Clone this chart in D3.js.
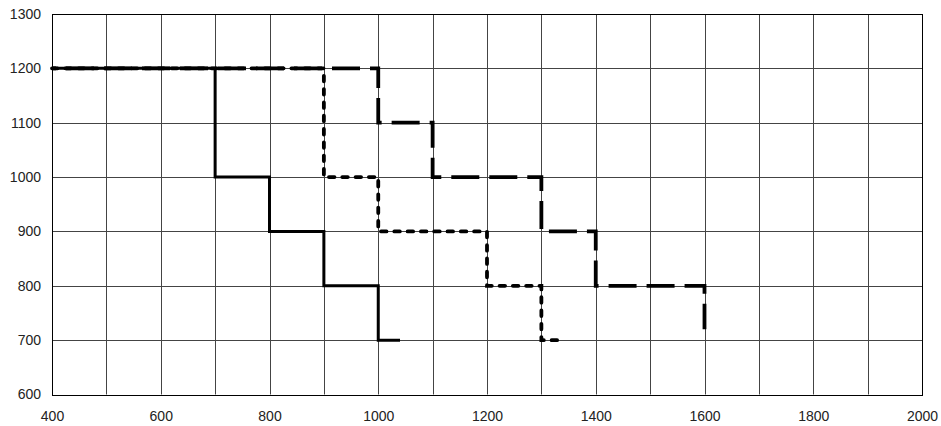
<!DOCTYPE html>
<html>
<head>
<meta charset="utf-8">
<script src="https://cdn.jsdelivr.net/npm/d3@7"></script>
<style>
  html, body { margin: 0; padding: 0; background: #fff; }
</style>
</head>
<body>
<svg id="chart" width="941" height="426"></svg>
<script>
// Step profiles: [x, y] vertices of each stepped line
const solidSteps = [[400,1200],[700,1200],[700,1000],[800,1000],[800,900],[900,900],[900,800],[1000,800],[1000,700],[1040,700]];
const shortDashSteps = [[400,1200],[900,1200],[900,1000],[1000,1000],[1000,900],[1200,900],[1200,800],[1300,800],[1300,700],[1340,700]];
const longDashSteps = [[400,1200],[1000,1200],[1000,1100],[1100,1100],[1100,1000],[1300,1000],[1300,900],[1400,900],[1400,800],[1600,800],[1600,720]];

const xTicks = [400, 600, 800, 1000, 1200, 1400, 1600, 1800, 2000];
const yTicks = [600, 700, 800, 900, 1000, 1100, 1200, 1300];
const xGrid = d3.range(400, 2001, 100);
const yGrid = d3.range(600, 1301, 100);

const svg = d3.select("#chart");
const plotL = 52, plotR = 922, plotT = 14, plotB = 394.5;
const font = "'Liberation Sans', Arial, sans-serif";

const x = d3.scaleLinear().domain([400, 2000]).range([plotL, plotR]);
const y = d3.scaleLinear().domain([600, 1300]).range([plotB, plotT]);

// grid
const grid = svg.append("g");
grid.selectAll("line.v").data(xGrid).join("line")
  .attr("x1", d => Math.round(x(d)) + 0.5).attr("x2", d => Math.round(x(d)) + 0.5)
  .attr("y1", plotT).attr("y2", plotB)
  .attr("stroke", "#444").attr("stroke-width", 1);
grid.selectAll("line.h").data(yGrid).join("line")
  .attr("y1", d => Math.round(y(d)) + 0.5).attr("y2", d => Math.round(y(d)) + 0.5)
  .attr("x1", plotL).attr("x2", plotR)
  .attr("stroke", "#444").attr("stroke-width", 1);

// frame
svg.append("rect")
  .attr("x", plotL + 0.5).attr("y", plotT + 0.5)
  .attr("width", plotR - plotL).attr("height", Math.round(plotB) - plotT)
  .attr("fill", "none").attr("stroke", "#000").attr("stroke-width", 1);

// axes (labels only)
const xAxis = d3.axisBottom(x).tickValues(xTicks).tickSize(0).tickPadding(17).tickFormat(d3.format("d"));
const yAxis = d3.axisLeft(y).tickValues(yTicks).tickSize(0).tickPadding(11).tickFormat(d3.format("d"));
const gx = svg.append("g").attr("transform", `translate(0,${plotB})`).call(xAxis);
gx.select(".domain").remove();
gx.selectAll("text").style("font-size", "14px").style("font-family", font).attr("fill", "#222");
const gy = svg.append("g").attr("transform", `translate(${plotL},0)`).call(yAxis);
gy.select(".domain").remove();
gy.selectAll("text").style("font-size", "14px").style("font-family", font).attr("fill", "#222");

const line = d3.line().x(d => x(d[0])).y(d => y(d[1]));

svg.append("path").datum(longDashSteps).attr("d", line)
  .attr("fill", "none").attr("stroke", "#000").attr("stroke-width", 3.8)
  .attr("stroke-dasharray", "28,10").attr("stroke-dashoffset", 24)
  .attr("stroke-linecap", "butt");
svg.append("path").datum(shortDashSteps).attr("d", line)
  .attr("fill", "none").attr("stroke", "#000").attr("stroke-width", 3.8)
  .attr("stroke-dasharray", "5.5,7.8").attr("stroke-linecap", "round");
svg.append("path").datum(solidSteps).attr("d", line)
  .attr("fill", "none").attr("stroke", "#000").attr("stroke-width", 3);
</script>
</body>
</html>
